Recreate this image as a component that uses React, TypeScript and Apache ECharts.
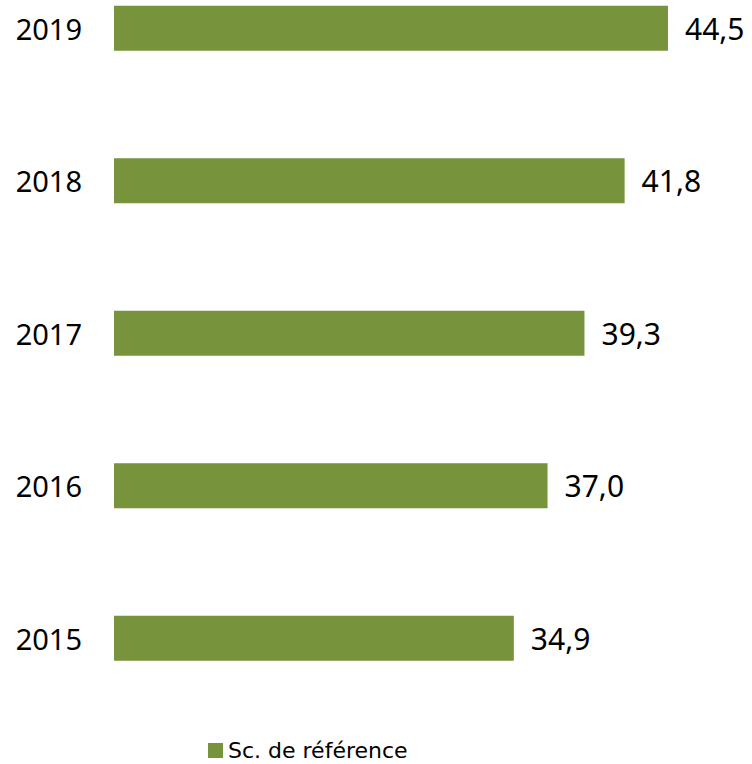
import React, { useEffect, useRef } from "react";
import * as echarts from "echarts";

const categories = ["2015", "2016", "2017", "2018", "2019"];
const values = [34.9, 37.0, 39.3, 41.8, 44.5];
const seriesName = "Sc. de référence";

const FONT = "'Noto Sans', 'Open Sans', sans-serif";
const LEGEND_FONT = "'DejaVu Sans', sans-serif";
const OFFSET = 48;

export default function App() {
  const ref = useRef<HTMLDivElement>(null);
  useEffect(() => {
    document.body.style.margin = "0";
    const chart = echarts.init(ref.current!, null, { renderer: "svg" });
    chart.setOption({
      animation: false,
      backgroundColor: "#ffffff",
      grid: { left: 114, width: 562, top: 0, height: 762.5, containLabel: false },
      xAxis: {
        type: "value",
        min: 10,
        max: 45,
        show: false,
      },
      yAxis: {
        type: "category",
        data: categories,
        axisLine: { show: false },
        axisTick: { show: false },
        axisLabel: {
          color: "#000",
          fontSize: 29,
          fontFamily: FONT,
          margin: 32,
        },
      },
      legend: {
        data: [seriesName],
        left: 208,
        top: 739.5 + OFFSET,
        padding: 0,
        itemWidth: 15,
        itemHeight: 15,
        icon: "rect",
        textStyle: { color: "#000", fontSize: 22, lineHeight: 22, fontFamily: LEGEND_FONT },
      },
      series: [
        {
          name: seriesName,
          type: "bar",
          data: values,
          barCategoryGap: "70.5%",
          itemStyle: { color: "#77933C" },
          label: {
            show: true,
            position: "right",
            distance: 17,
            color: "#000",
            fontSize: 30,
            fontFamily: FONT,
            formatter: (p: any) => p.value.toFixed(1).replace(".", ","),
          },
        },
      ],
    });
    return () => chart.dispose();
  }, []);
  return (
    <div style={{ position: "relative", width: 752, height: 764, overflow: "hidden" }}>
      <div
        ref={ref}
        style={{ position: "absolute", left: 0, top: -OFFSET, width: 752, height: 764 + OFFSET }}
      />
    </div>
  );
}
